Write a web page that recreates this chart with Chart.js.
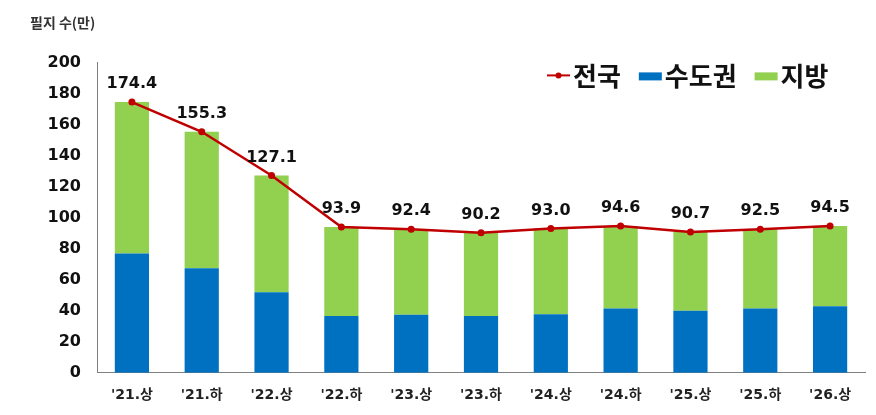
<!DOCTYPE html>
<html>
<head>
<meta charset="utf-8">
<script src="https://cdn.jsdelivr.net/npm/chart.js@4"></script>
<style>
html,body{margin:0;padding:0;background:#fff;}
#wrap{width:876px;height:415px;position:relative;}
</style>
</head>
<body>
<div id="wrap"><canvas id="c"></canvas></div>
<script>
const categories = ["'21.상","'21.하","'22.상","'22.하","'23.상","'23.하","'24.상","'24.하","'25.상","'25.하","'26.상"];
const nationalTotal = [174.4,155.3,127.1,93.9,92.4,90.2,93.0,94.6,90.7,92.5,94.5];
const capitalArea = [76.9,67.4,51.9,36.6,37.3,36.6,37.7,41.4,39.9,41.4,42.9];
const provinces = [97.5,87.9,75.2,57.3,55.1,53.6,55.3,53.2,50.8,51.1,51.6];
const yTicks = [0,20,40,60,80,100,120,140,160,180,200];

const RED = '#C00000', BLUE = '#0070C0', GREEN = '#92D050';
const NUM_FONT = '"DejaVu Sans", "Noto Sans CJK KR", sans-serif';
const KR_FONT = '"Noto Sans CJK KR", sans-serif';

const valueLabels = {
  id:'valueLabels',
  afterDatasetsDraw(chart){
    const meta = chart.getDatasetMeta(0);
    const ctx = chart.ctx;
    ctx.save();
    ctx.font = 'bold 16px ' + NUM_FONT;
    ctx.fillStyle = '#111';
    ctx.textAlign = 'center';
    ctx.textBaseline = 'middle';
    meta.data.forEach((pt,i)=>{
      ctx.fillText(nationalTotal[i].toFixed(1), pt.x, pt.y - 18);
    });
    ctx.restore();
  }
};

const insideLegend = {
  id:'insideLegend',
  afterDraw(chart){
    const ctx = chart.ctx;
    const area = chart.chartArea;
    ctx.save();
    ctx.font = 'bold 26px ' + KR_FONT;
    ctx.textBaseline = 'middle';
    ctx.textAlign = 'left';
    const cy = area.top + 14;
    let x = area.left + 450;
    chart.data.datasets.forEach((ds)=>{
      if (ds.type === 'line'){
        ctx.strokeStyle = ds.borderColor; ctx.lineWidth = 2;
        ctx.beginPath(); ctx.moveTo(x, cy - 1); ctx.lineTo(x + 23, cy - 1); ctx.stroke();
        ctx.fillStyle = ds.borderColor;
        ctx.beginPath(); ctx.arc(x + 11.5, cy - 1, 3, 0, Math.PI*2); ctx.fill();
      } else {
        ctx.fillStyle = ds.backgroundColor;
        ctx.fillRect(x, cy - 4, 23, 8);
      }
      x += 26;
      ctx.fillStyle = '#111';
      ctx.fillText(ds.label, x, cy);
      x += ctx.measureText(ds.label).width + 18;
    });
    ctx.restore();
  }
};

new Chart(document.getElementById('c'), {
  data: {
    labels: categories,
    datasets: [
      { type:'line', label:'전국', data: nationalTotal, borderColor: RED, backgroundColor: RED,
        borderWidth: 2.5, pointRadius: 3.5, pointBackgroundColor: RED, pointBorderWidth: 0,
        stack:'line', pointStyle:'circle', tension:0 },
      { type:'bar', label:'수도권', data: capitalArea, backgroundColor: BLUE, stack:'bars',
        barPercentage: 0.49, categoryPercentage: 1.0 },
      { type:'bar', label:'지방', data: provinces, backgroundColor: GREEN, stack:'bars',
        barPercentage: 0.49, categoryPercentage: 1.0 }
    ]
  },
  options: {
    responsive: true,
    maintainAspectRatio: false,
    animation: false,
    layout: { padding: { left: 30, right: 11, top: 14, bottom: -2.5 } },
    plugins: {
      title: { display: true, text: '필지 수(만)', align: 'start', color: '#333',
        font: { family: KR_FONT, size: 14, weight: 'bold' }, padding: { top: 0, bottom: 31.6 } },
      legend: { display: false },
      tooltip: { enabled: false }
    },
    scales: {
      x: {
        stacked: true,
        grid: { display: false, drawTicks: false },
        border: { display: true, color: '#808080', width: 1 },
        ticks: { color: '#222', padding: 14, font: { family: NUM_FONT, size: 14, weight: 'bold' } }
      },
      y: {
        stacked: true, min: 0, max: 200,
        afterBuildTicks(scale){ scale.ticks = yTicks.map(v=>({value:v})); },
        afterFit(scale){ scale.width = 67; },
        grid: { display: false, drawTicks: false },
        border: { display: true, color: '#808080', width: 1 },
        ticks: { color: '#111', padding: 16, font: { family: NUM_FONT, size: 16, weight: 'bold' } }
      }
    }
  },
  plugins: [valueLabels, insideLegend]
});
</script>
</body>
</html>
